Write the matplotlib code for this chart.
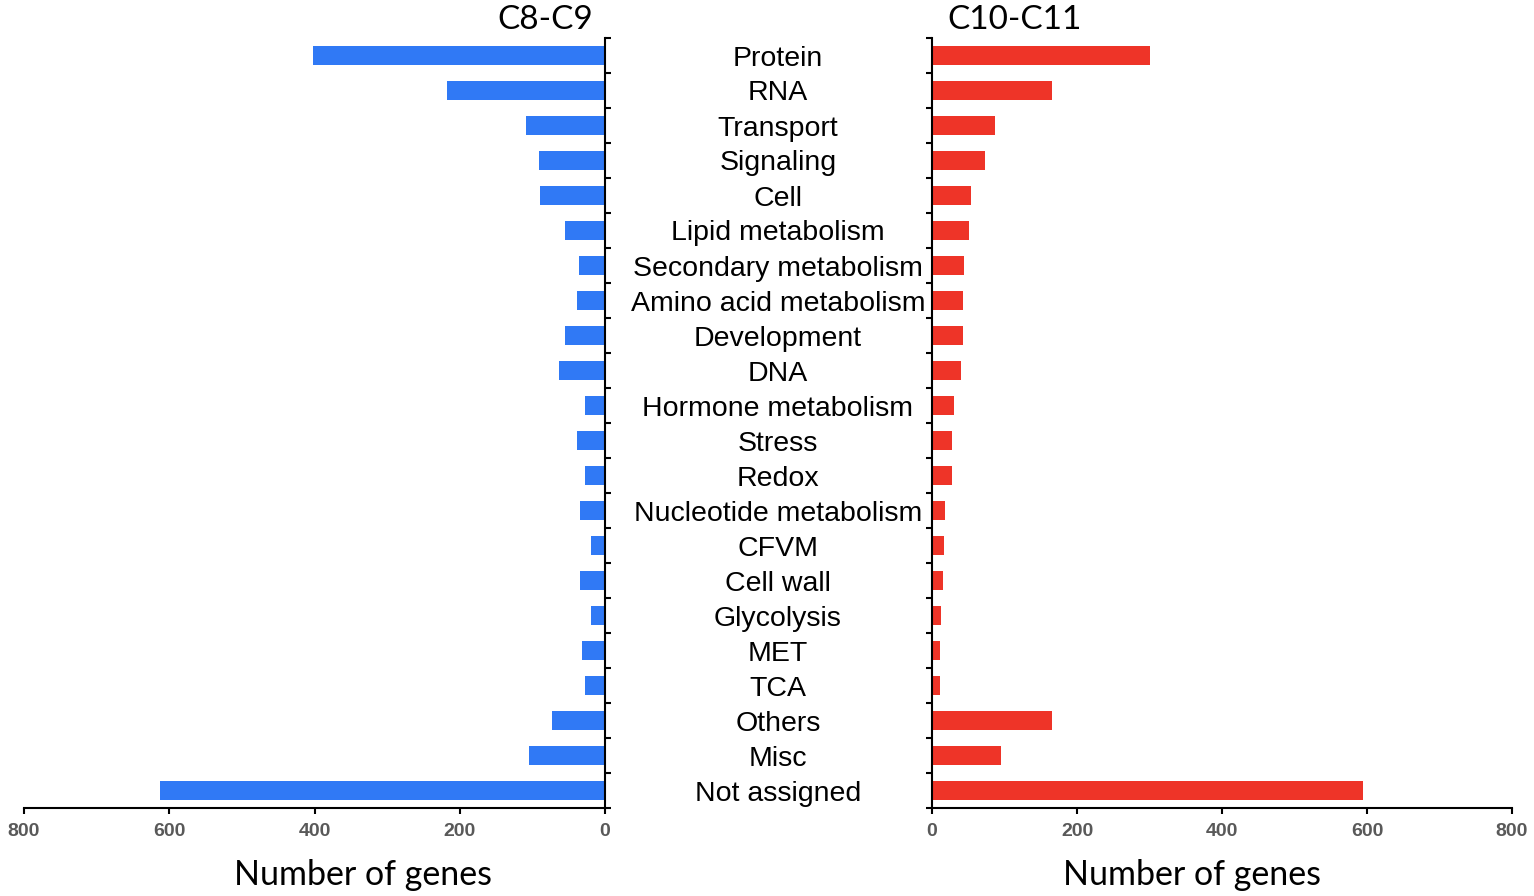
import matplotlib
matplotlib.use('Agg')
import matplotlib.pyplot as plt
from matplotlib.transforms import blended_transform_factory

categories = ['Protein', 'RNA', 'Transport', 'Signaling', 'Cell', 'Lipid metabolism',
              'Secondary metabolism', 'Amino acid metabolism', 'Development', 'DNA',
              'Hormone metabolism', 'Stress', 'Redox', 'Nucleotide metabolism', 'CFVM',
              'Cell wall', 'Glycolysis', 'MET', 'TCA', 'Others', 'Misc', 'Not assigned']
c8_c9 = [402, 218, 109, 91, 90, 55, 36, 39, 55, 63, 28, 39, 28, 34, 19, 34, 19, 32, 28, 73, 105, 613]
c10_c11 = [301, 166, 87, 73, 54, 51, 44, 43, 43, 40, 30, 28, 28, 18, 17, 15, 12, 11, 11, 166, 95, 594]
xticks = [0, 200, 400, 600, 800]

blue = '#3079F5'
red = '#EE3428'
title_font = ['Lato', 'DejaVu Sans']
tick_font = ['Liberation Sans Narrow', 'Liberation Sans', 'DejaVu Sans']
cat_font = ['Liberation Sans', 'DejaVu Sans']

fig = plt.figure(figsize=(15.34, 8.96), dpi=100)
ax1 = fig.add_axes([24 / 1534, 1 - 808 / 896, 581 / 1534, 770 / 896])
ax2 = fig.add_axes([932 / 1534, 1 - 808 / 896, 580 / 1534, 770 / 896])

pos = list(range(len(categories)))
ax1.barh(pos, c8_c9, height=0.55, color=blue)
ax2.barh(pos, c10_c11, height=0.55, color=red)

ax1.set_xlim(800, 0)
ax2.set_xlim(0, 800)
for ax in (ax1, ax2):
    ax.set_ylim(len(categories) - 0.5, -0.5)
    ax.set_yticks([p - 0.5 for p in pos] + [len(categories) - 0.5])
    ax.set_yticklabels([])
    ax.set_xticks(xticks)
    ax.set_xticklabels([str(t) for t in xticks], family=tick_font, fontsize=14,
                       fontweight='bold', color='#595959')
    ax.tick_params(axis='both', direction='out', length=4, width=1.5, color='black')
    ax.tick_params(axis='x', pad=7)
    ax.spines['top'].set_visible(False)
    ax.spines['bottom'].set_linewidth(1.5)

ax1.spines['left'].set_visible(False)
ax1.spines['right'].set_linewidth(1.5)
ax1.yaxis.tick_right()
ax2.spines['right'].set_visible(False)
ax2.spines['left'].set_linewidth(1.5)

ax1.text(0.897, 1 + 18 / 770, 'C8-C9', transform=ax1.transAxes, ha='center', va='center',
         fontsize=24, family=title_font)
ax2.text(0.143, 1 + 18 / 770, 'C10-C11', transform=ax2.transAxes, ha='center', va='center',
         fontsize=24, family=title_font)
ax1.text(0.583, -67 / 770, 'Number of genes', transform=ax1.transAxes, ha='center',
         va='center', fontsize=24.5, family=title_font)
ax2.text(0.448, -67 / 770, 'Number of genes', transform=ax2.transAxes, ha='center',
         va='center', fontsize=24.5, family=title_font)

trans = blended_transform_factory(fig.transFigure, ax2.transData)
for p, name in zip(pos, categories):
    fig.text(778 / 1534, p, name, transform=trans, ha='center', va='center_baseline',
             fontsize=20.5, family=cat_font)

fig.savefig('out.png', dpi=100)
